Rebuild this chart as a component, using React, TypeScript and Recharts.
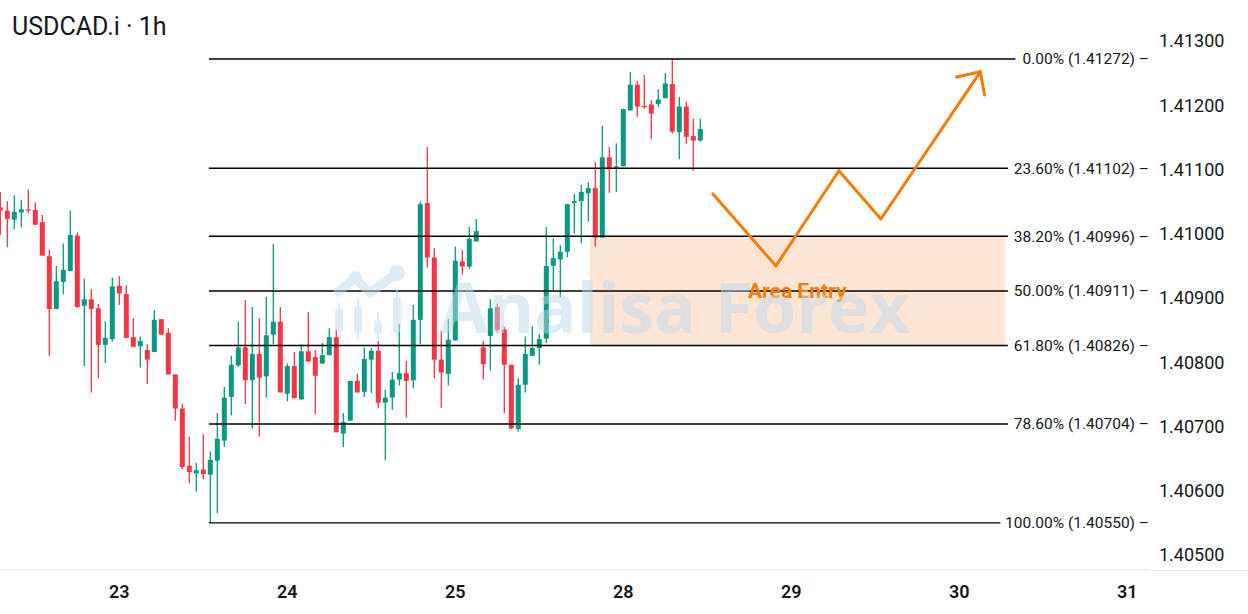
import React from "react";
import { Bar, ComposedChart, ReferenceArea, ReferenceDot, ReferenceLine, XAxis, YAxis } from "recharts";

// hourly candles, index = hour since the first visible bar
const opens = [
  1.41041, 1.41036, 1.41022, 1.41033, 1.41038, 1.41037, 1.41018, 1.40965, 1.40883, 1.40925,
  1.40942, 1.40997, 1.40888, 1.40898, 1.40884, 1.40827, 1.40836, 1.40919, 1.40906, 1.40839,
  1.40825, 1.40819, 1.40816, 1.40867, 1.40846, 1.40781, 1.40728, 1.40639, 1.40627, 1.40633,
  1.40625, 1.40647, 1.40678, 1.40746, 1.40795, 1.40823, 1.40772, 1.40813, 1.40778, 1.40843,
  1.40863, 1.40751, 1.40794, 1.40742, 1.40817, 1.40808, 1.40798, 1.40811, 1.40839, 1.40689,
  1.40709, 1.40771, 1.40754, 1.40804, 1.40818, 1.40737, 1.40745, 1.40773, 1.40783, 1.40772,
  1.40866, 1.41048, 1.40963, 1.40804, 1.40782, 1.40834, 1.40957, 1.40949, 1.40988, 1.40823,
  1.40841, 1.40886, 1.40851, 1.40796, 1.40696, 1.40765, 1.4081, 1.40822, 1.40837, 1.4095,
  1.4096, 1.40972, 1.41048, 1.41051, 1.41063, 1.41071, 1.40994, 1.41119, 1.41103, 1.41105,
  1.41192, 1.41232, 1.41199, 1.41201, 1.41202, 1.41211, 1.41233, 1.41158, 1.41198, 1.41152,
  1.41145,
];
const highs = [
  1.41065, 1.41051, 1.4106, 1.41053, 1.41069, 1.41049, 1.41029, 1.40975, 1.4095, 1.40985,
  1.41036, 1.41002, 1.4093, 1.40914, 1.40891, 1.40864, 1.40932, 1.40934, 1.4092, 1.40869,
  1.4084, 1.40828, 1.40881, 1.40867, 1.40853, 1.40781, 1.40735, 1.40684, 1.40643, 1.40688,
  1.40661, 1.40721, 1.40762, 1.4081, 1.40863, 1.40897, 1.40886, 1.40869, 1.40902, 1.40984,
  1.40886, 1.40798, 1.40816, 1.40828, 1.40878, 1.40819, 1.4083, 1.40853, 1.40851, 1.40721,
  1.40771, 1.40782, 1.40823, 1.40822, 1.40833, 1.40757, 1.40785, 1.4086, 1.40802, 1.40889,
  1.4105, 1.41135, 1.40978, 1.40849, 1.40867, 1.4098, 1.40975, 1.41011, 1.41023, 1.40833,
  1.40898, 1.40891, 1.40855, 1.40796, 1.40775, 1.4084, 1.40856, 1.40844, 1.4101, 1.40993,
  1.40982, 1.41046, 1.41062, 1.41076, 1.4108, 1.41112, 1.41168, 1.41135, 1.41141, 1.41194,
  1.41252, 1.41238, 1.41247, 1.41208, 1.41225, 1.4125, 1.41272, 1.41213, 1.41206, 1.41179,
  1.41179,
];
const lows = [
  1.40998, 1.40979, 1.41007, 1.4101, 1.41032, 1.41014, 1.40966, 1.4081, 1.40883, 1.40906,
  1.40942, 1.40885, 1.40794, 1.40753, 1.40775, 1.40799, 1.40832, 1.40889, 1.40838, 1.40824,
  1.40792, 1.40766, 1.40816, 1.40843, 1.40781, 1.40709, 1.40634, 1.40612, 1.40599, 1.40618,
  1.4055, 1.40565, 1.40668, 1.40717, 1.40793, 1.40735, 1.40697, 1.40684, 1.40745, 1.40828,
  1.40753, 1.40739, 1.40744, 1.40742, 1.40801, 1.40719, 1.40798, 1.40811, 1.40691, 1.40668,
  1.40709, 1.40753, 1.40746, 1.40752, 1.40728, 1.40647, 1.40726, 1.40764, 1.40714, 1.40759,
  1.40828, 1.40947, 1.40775, 1.40729, 1.40764, 1.40834, 1.40937, 1.40945, 1.40988, 1.40773,
  1.40787, 1.40846, 1.40721, 1.40696, 1.40692, 1.40753, 1.4081, 1.40796, 1.4083, 1.40912,
  1.40901, 1.40964, 1.41, 1.40985, 1.41019, 1.4098, 1.40994, 1.41064, 1.41065, 1.41105,
  1.41192, 1.41182, 1.41195, 1.41147, 1.41197, 1.41211, 1.41156, 1.41116, 1.4114, 1.41098,
  1.41143,
];
const closes = [
  1.41036, 1.41023, 1.41034, 1.41038, 1.41036, 1.41014, 1.40966, 1.40883, 1.40926, 1.40944,
  1.40998, 1.40886, 1.40898, 1.40883, 1.40827, 1.40838, 1.40918, 1.40907, 1.40838, 1.40824,
  1.40833, 1.40804, 1.40866, 1.40843, 1.40781, 1.40728, 1.40637, 1.40629, 1.40632, 1.40626,
  1.40648, 1.40681, 1.40745, 1.40796, 1.40823, 1.40772, 1.40813, 1.40776, 1.40842, 1.40863,
  1.40753, 1.40794, 1.40744, 1.40817, 1.40801, 1.40779, 1.40811, 1.40839, 1.40691, 1.40707,
  1.40771, 1.40753, 1.40805, 1.40818, 1.40737, 1.40745, 1.40773, 1.40783, 1.40771, 1.40866,
  1.41046, 1.40963, 1.40804, 1.40784, 1.40835, 1.40958, 1.40949, 1.40992, 1.41004, 1.40797,
  1.40884, 1.4085, 1.40796, 1.40697, 1.40765, 1.40813, 1.40822, 1.40836, 1.4095, 1.40962,
  1.40972, 1.41046, 1.41051, 1.41065, 1.41071, 1.40994, 1.41119, 1.41103, 1.41105, 1.41194,
  1.41232, 1.41198, 1.41197, 1.41187, 1.41209, 1.41234, 1.41159, 1.41198, 1.41151, 1.41145,
  1.41163,
];

const dayTicks = [17, 41, 65, 89, 113, 137, 161];
const dayLabels = ["23", "24", "25", "28", "29", "30", "31"];
const priceTicks = [1.405, 1.406, 1.407, 1.408, 1.409, 1.41, 1.411, 1.412, 1.413];

const fibRatios = ["0.00%", "23.60%", "38.20%", "50.00%", "61.80%", "78.60%", "100.00%"];
const fibPrices = [1.41272, 1.41102, 1.40996, 1.40911, 1.40826, 1.40704, 1.4055];
const fibFromHour = 29.8;
const fibToHour = 163.96;

const zoneHours = [84.2, 143.5];
const zonePrices = [1.40826, 1.40996];

// projected path + arrow head (hour, price)
const pathHours = [101.8, 110.8, 119.8, 125.8, 140.0];
const pathPrices = [1.41062, 1.4095, 1.41098, 1.41023, 1.41252];
const arrowHours = [136.6, 140.0, 140.6];
const arrowPrices = [1.41244, 1.41252, 1.41216];

const UP = "#089981";
const DOWN = "#f23645";
const ORANGE = "#f57c00";
const TEXT = "#131722";

const candles = opens.map((open, i) => ({
  hour: i,
  open,
  high: highs[i],
  low: lows[i],
  close: closes[i],
  range: [lows[i], highs[i]],
}));

const toSegments = (hours: number[], prices: number[]) =>
  hours.slice(1).map((h, i) => [
    { x: hours[i], y: prices[i] },
    { x: h, y: prices[i + 1] },
  ]);
const pathSegments = [...toSegments(pathHours, pathPrices), ...toSegments(arrowHours, arrowPrices)];

const Candle = (props: any) => {
  const { x, y, width, height, payload } = props;
  if (x == null || y == null || !payload) return null;
  const top = Math.min(y, y + height);
  const h = Math.abs(height);
  const { open, close, high, low } = payload;
  const k = h / (high - low);
  const yo = top + (high - open) * k;
  const yc = top + (high - close) * k;
  const color = close >= open ? UP : DOWN;
  const cx = x + width / 2;
  return (
    <g>
      <line x1={cx} x2={cx} y1={top} y2={top + h} stroke={color} strokeWidth={1.3} />
      <rect x={x} y={Math.min(yo, yc)} width={width} height={Math.max(Math.abs(yo - yc), 1)} fill={color} />
    </g>
  );
};

const FibLabel = (props: any) => {
  const { viewBox, text } = props;
  if (!viewBox) return null;
  const right = viewBox.x + viewBox.width;
  const y = viewBox.y;
  const w = text.length * 7.45 + 6;
  return (
    <g>
      <rect x={right - w} y={y - 3} width={w + 2} height={6} fill="#ffffff" />
      <text x={right + 1} y={y} dy="0.35em" textAnchor="end" fontSize={15.5} fontFamily="Roboto" fill={TEXT}>
        {text}
      </text>
    </g>
  );
};

const Watermark = () => (
  <svg width={1248} height={614} style={{ position: "absolute", left: 0, top: 0, pointerEvents: "none" }}>
    <g fill="#bedaee" stroke="#bedaee" opacity={0.5}>
      <polyline points="338,292 355,278 370,293 396,274" fill="none" strokeWidth={9} strokeLinecap="round" strokeLinejoin="round" />
      <circle cx={355} cy={278} r={7} stroke="none" />
      <circle cx={397} cy={273} r={8} stroke="none" />
      <rect x={335} y={309} width={8} height={23} rx={3} stroke="none" />
      <rect x={354} y={306} width={8} height={27} rx={3} stroke="none" />
      <rect x={374} y={320} width={8} height={14} rx={3} stroke="none" />
      <rect x={393} y={297} width={8} height={36} rx={3} stroke="none" />
      <line x1={339} x2={339} y1={302} y2={338} strokeWidth={2} />
      <line x1={358} x2={358} y1={298} y2={340} strokeWidth={2} />
      <line x1={378} x2={378} y1={312} y2={340} strokeWidth={2} />
      <line x1={397} x2={397} y1={290} y2={340} strokeWidth={2} />
      <text x={440} y={333} stroke="none" fontFamily="Open Sans" fontWeight={700} fontSize={70}>
        Analisa Forex
      </text>
    </g>
  </svg>
);

export default function App() {
  return (
    <div style={{ position: "absolute", left: 0, top: 0, width: 1248, height: 614, background: "#ffffff" }}>
      <ComposedChart width={1248} height={614} data={candles} margin={{ top: 0, right: 0, bottom: 0, left: 0 }}>
        <XAxis
          dataKey="hour"
          type="number"
          domain={[-0.043, 164.243]}
          allowDataOverflow
          ticks={dayTicks}
          tickFormatter={(v: number) => dayLabels[dayTicks.indexOf(v)] ?? ""}
          height={44}
          tickLine={false}
          tickMargin={9}
          axisLine={{ stroke: "#e0e3eb" }}
          tick={{ fontSize: 18, fontWeight: 600, fill: TEXT, fontFamily: "Roboto" }}
        />
        <YAxis
          orientation="right"
          type="number"
          domain={[1.4047665, 1.4136381]}
          allowDataOverflow
          ticks={priceTicks}
          tickFormatter={(v: number) => v.toFixed(5)}
          width={98}
          tickLine={false}
          axisLine={false}
          tickMargin={3}
          tick={{ fontSize: 18, fill: TEXT, fontFamily: "Roboto" }}
        />
        <ReferenceArea
          x1={zoneHours[0]}
          x2={zoneHours[1]}
          y1={zonePrices[0]}
          y2={zonePrices[1]}
          fill="#fde5d3"
          fillOpacity={1}
          stroke="none"
        />
        {fibPrices.map((p, i) => (
          <ReferenceLine
            key={fibRatios[i]}
            segment={[
              { x: fibFromHour, y: p },
              { x: fibToHour, y: p },
            ]}
            stroke="#000000"
            strokeWidth={1.4}
            label={<FibLabel text={`${fibRatios[i]} (${p.toFixed(5)}) –`} />}
          />
        ))}
        <Bar dataKey="range" barSize={5} shape={<Candle />} isAnimationActive={false} />
        {pathSegments.map((seg, i) => (
          <ReferenceLine
            key={`path-${i}`}
            segment={seg}
            stroke={ORANGE}
            strokeWidth={3}
            strokeLinecap="round"
          />
        ))}
        <ReferenceDot
          x={(zoneHours[0] + zoneHours[1]) / 2}
          y={(zonePrices[0] + zonePrices[1]) / 2}
          r={0}
          stroke="none"
          label={{ value: "Area Entry", position: "center", fill: ORANGE, fontSize: 21, fontWeight: 700, fontFamily: "Roboto" }}
        />
      </ComposedChart>
      <div style={{ position: "absolute", left: 1152, top: 570, width: 96, height: 1, background: "#e0e3eb" }} />
      <Watermark />
      <div
        style={{
          position: "absolute",
          left: 12,
          top: 12,
          fontFamily: "Roboto",
          fontSize: 25,
          color: TEXT,
          whiteSpace: "nowrap",
        }}
      >
        USDCAD.i · 1h
      </div>
    </div>
  );
}
